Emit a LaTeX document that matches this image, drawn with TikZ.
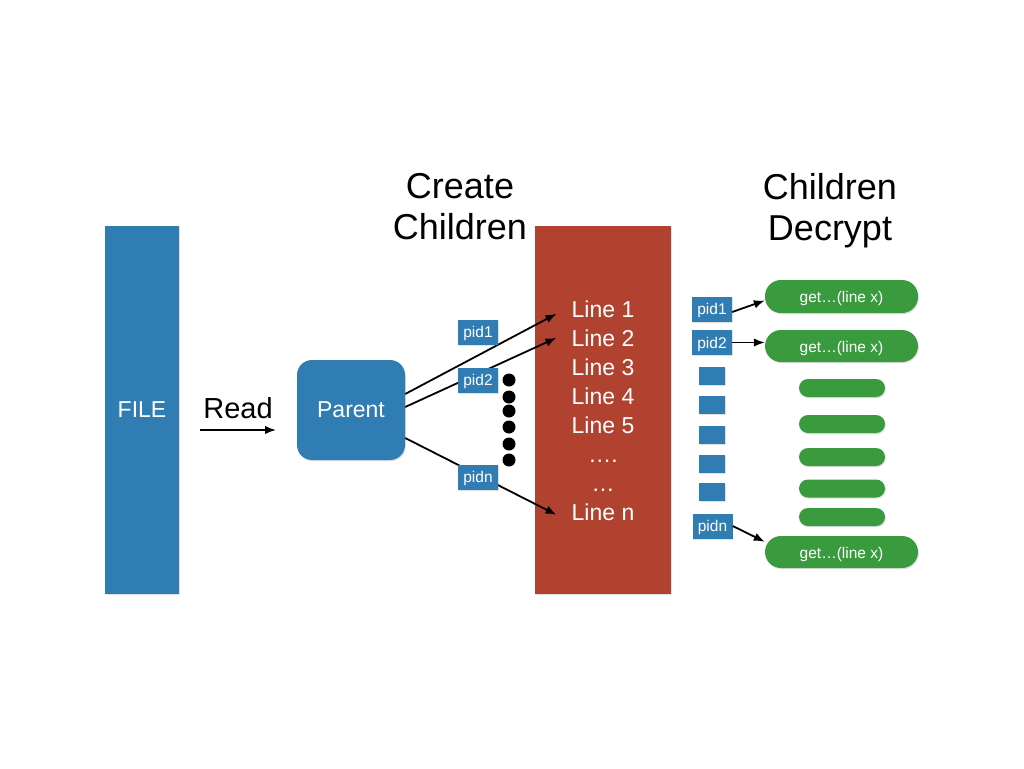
\documentclass[tikz,border=0pt]{standalone}
\usepackage{fontspec}
\setmainfont{Liberation Sans}
\usetikzlibrary{arrows.meta,shadows}
\definecolor{fileblue}{RGB}{47,125,178}
\definecolor{linered}{RGB}{178,66,48}
\definecolor{childgreen}{RGB}{58,155,62}
\tikzset{
  soft/.style={drop shadow={shadow xshift=0.8pt, shadow yshift=-1.2pt, opacity=0.25}},
  block/.style={fill=fileblue, text=white, inner sep=0pt, soft},
  pidbox/.style={block, minimum width=40pt, minimum height=25pt, text height=11.5pt, text depth=0pt, font=\fontsize{15.5}{18}\selectfont},
  pill/.style={fill=childgreen, text=white, inner sep=0pt, soft, text height=12pt, text depth=0pt, font=\fontsize{15.5}{18}\selectfont},
  linetext/.style={text=white, inner xsep=15pt, font=\fontsize{23}{27}\selectfont},
  heading/.style={align=center, font=\fontsize{36}{41}\selectfont},
  link/.style={-{Latex[length=11pt,width=8.5pt]}, line width=1.8pt},
}
\begin{document}
\begin{tikzpicture}[x=1pt,y=-1pt]
    \useasboundingbox (0,0) rectangle (1024,768);
    % headings
    \node[heading] (create) at (460,207) {Create\\Children};
    \node[heading] (decrypt) at (830,211) {Children\\Decrypt};

    % file and parent
    \node[block, minimum width=74pt, minimum height=368pt, font=\fontsize{23}{27}\selectfont] (file) at (142,410) {FILE};
    \node[block, rounded corners=15pt, minimum width=108pt, minimum height=100pt, font=\fontsize{23}{27}\selectfont] (parent) at (351,410) {Parent};
    \node[font=\fontsize{29}{34}\selectfont] (read) at (238,408) {Read};
    \coordinate (readA) at (200,430); \coordinate (readB) at (276,430);
    \draw[link] (readA) -- (readB);

    % lines of the file
    \node[fill=linered, minimum width=136pt, minimum height=368pt, soft] (lines) at (603,410) {};
    \foreach \t [count=\i] in {Line 1,Line 2,Line 3,Line 4,Line 5,….,…,Line n}
        \node[linetext, anchor=base] (l\i) at (603,288+29*\i) {\t};

    % parent forks the children
    \draw[link] ([yshift=16pt]parent.east) -- ([yshift=-5pt]l1.west);
    \draw[link] ([yshift=3pt]parent.east) -- (l2.west);
    \draw[link] ([yshift=-28pt]parent.east) -- ([yshift=-3pt]l8.west);
    \node[pidbox] (p1) at (478,332) {pid1};
    \node[pidbox] (p2) at (478,380) {pid2};
    \node[pidbox] (pn) at (478,477) {pidn};
    \foreach \y in {380,397,411,427,444,460} \fill (509,\y) circle (6.5pt);

    % children decrypt
    \node[pidbox] (r1) at (712,309) {pid1};
    \node[pidbox] (r2) at (712,342.5) {pid2};
    \foreach \y [count=\i] in {376,405,435,464,492}
        \node[block, minimum width=26pt, minimum height=18pt] (sq\i) at (712,\y) {};
    \node[pidbox] (rn) at (712.5,526) {pidn};

    \node[pill, rounded corners=16pt, minimum width=153pt, minimum height=33pt] (g1) at (841.5,296.5) {get…(line x)};
    \node[pill, rounded corners=16pt, minimum width=153pt, minimum height=32pt] (g2) at (841.5,346) {get…(line x)};
    \foreach \y [count=\i] in {388,424,457,488.5,517}
        \node[pill, rounded corners=9pt, minimum width=86pt, minimum height=18pt] (s\i) at (842,\y) {};
    \node[pill, rounded corners=16pt, minimum width=153pt, minimum height=32pt] (gn) at (841.5,552) {get…(line x)};

    \draw[link] ([yshift=-3pt]r1.east) -- ([yshift=-4pt]g1.west);
    \draw[link] (r2.east) -- (r2.east -| g2.west);
    \draw[link] (rn.east) -- ([yshift=-6pt]gn.north west);
\end{tikzpicture}
\end{document}
